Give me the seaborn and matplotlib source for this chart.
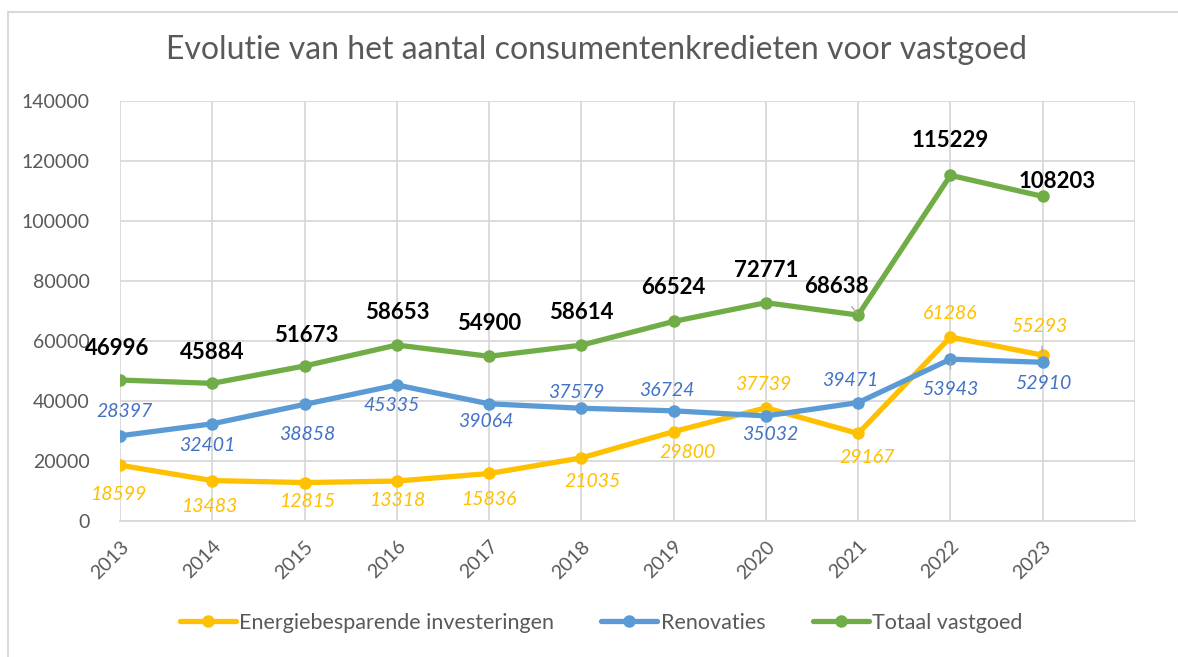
import matplotlib
matplotlib.use("Agg")
import matplotlib.pyplot as plt
from matplotlib.patches import Rectangle
import seaborn as sns
import pandas as pd

years = [2013, 2014, 2015, 2016, 2017, 2018, 2019, 2020, 2021, 2022, 2023]
energie = [18599, 13483, 12815, 13318, 15836, 21035, 29800, 37739, 29167, 61286, 55293]
renovaties = [28397, 32401, 38858, 45335, 39064, 37579, 36724, 35032, 39471, 53943, 52910]
totaal = [46996, 45884, 51673, 58653, 54900, 58614, 66524, 72771, 68638, 115229, 108203]

series_names = ["Energiebesparende investeringen", "Renovaties", "Totaal vastgoed"]
title = "Evolutie van het aantal consumentenkredieten voor vastgoed"

# label offsets in pixels (dx, dy) relative to the point, Excel-style placement
off_energie = [(-2, -29), (-3, -26), (3, -19), (0, -19), (0, -26), (11, -24),
               (14, -21), (-3, 23), (9, -24), (0, 24), (-3, 29)]
off_renov = [(5, 24), (-5, -22), (3, -30), (-5, -21), (-3, -18), (-5, 16),
             (-7, 20), (4, -19), (-8, 22), (0, -30), (1, -21)]
off_totaal = [(-3, 32), (0, 31), (2, 30), (0, 33), (0, 33), (0, 33),
              (0, 34), (0, 32), (-22, 29), (0, 35), (14, 15)]

line_colors = ["#FFC000", "#5B9BD5", "#70AD47"]
label_colors = ["#FFC000", "#4472C4", "#000000"]
grid_c = "#D9D9D9"
text_c = "#595959"

sns.set_style("white")
plt.rcParams["font.family"] = ["Lato", "DejaVu Sans"]

df = pd.DataFrame({
    "jaar": years * 3,
    "aantal": energie + renovaties + totaal,
    "reeks": [series_names[0]] * len(years) + [series_names[1]] * len(years)
             + [series_names[2]] * len(years),
})

fig = plt.figure(figsize=(11.78, 6.57), dpi=100)
ax = fig.add_axes([120 / 1178, 1 - 521 / 657, (1135 - 120) / 1178, (521 - 101) / 657])

sns.lineplot(data=df, x="jaar", y="aantal", hue="reeks", hue_order=series_names,
             palette=line_colors, marker="o", markersize=9, markeredgewidth=0,
             linewidth=3.8, ax=ax, zorder=3)

ax.set_xlim(2013, 2024)
ax.set_ylim(0, 140000)
ax.set_yticks(range(0, 140001, 20000))
ax.set_xticks(years + [2024])
ax.set_xticklabels([str(y) for y in years] + [""])
ax.grid(True, color=grid_c, lw=1.3)
ax.set_axisbelow(True)
for s in ["left", "right", "top"]:
    ax.spines[s].set_visible(False)
ax.spines["bottom"].set_color(grid_c)
ax.spines["bottom"].set_linewidth(1.3)
ax.tick_params(axis="y", length=0, pad=22, labelsize=14, labelcolor=text_c)
ax.tick_params(axis="x", length=8, width=1.3, color=grid_c, pad=4,
               labelsize=14, labelcolor=text_c)
for lab in ax.get_xticklabels():
    lab.set_rotation(45)
    lab.set_ha("right")
    lab.set_va("top")
    lab.set_rotation_mode("anchor")
ax.set_xlabel("")
ax.set_ylabel("")

# data labels
leaders = {(2, 8), (1, 9), (0, 10)}
all_vals = [energie, renovaties, totaal]
all_offs = [off_energie, off_renov, off_totaal]
for si, (vals, offs) in enumerate(zip(all_vals, all_offs)):
    for i, (yr, v) in enumerate(zip(years, vals)):
        bold = si == 2
        kw = {}
        if (si, i) in leaders:
            kw["arrowprops"] = dict(arrowstyle="-", color="#A6A6A6", lw=0.9,
                                    shrinkA=6, shrinkB=2)
        ax.annotate(str(v), (yr, v), xytext=offs[i], textcoords="offset pixels",
                    ha="center", va="center", color=label_colors[si],
                    fontsize=16 if bold else 14,
                    fontweight="bold" if bold else "normal",
                    fontstyle="normal" if bold else "italic", zorder=5, **kw)

fig.text(597 / 1178, 1 - 50 / 657, title, ha="center", va="center",
         fontsize=23, color=text_c)

handles, labels = ax.get_legend_handles_labels()
ax.legend(handles, labels, loc="center", bbox_to_anchor=(601 / 1178, 1 - 623 / 657),
          bbox_transform=fig.transFigure, ncol=3, frameon=False, fontsize=15.5,
          labelcolor=text_c, handlelength=2.6, handletextpad=0.15, columnspacing=2.2)

fig.add_artist(Rectangle((8 / 1178, -0.1), 2, 1 - 12 / 657 + 0.1,
                         transform=fig.transFigure, fill=False,
                         edgecolor=grid_c, lw=1.5))

fig.savefig("out.png", dpi=100)
